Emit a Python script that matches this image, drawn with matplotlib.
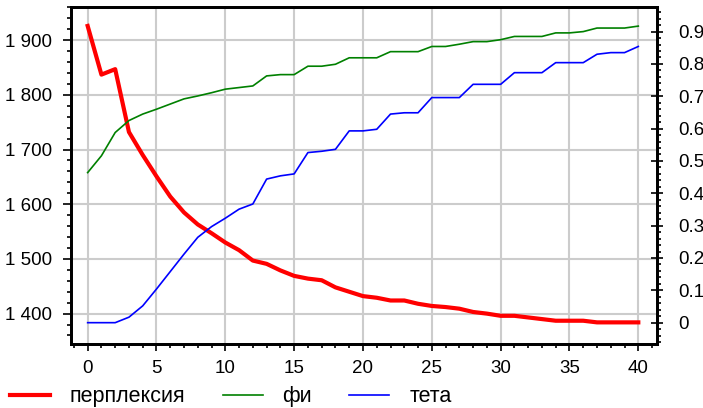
import matplotlib
matplotlib.use("Agg")
import matplotlib.pyplot as plt
from matplotlib.ticker import MultipleLocator, FuncFormatter

plt.rcParams['font.family'] = ['Liberation Sans', 'DejaVu Sans']

# данные
epochs = list(range(41))
perplexity = [1926, 1837, 1847, 1732, 1690, 1651, 1614, 1585, 1563, 1547,
              1530, 1516, 1497, 1491, 1479, 1469, 1464, 1461, 1448, 1440,
              1432, 1429, 1424, 1424, 1418, 1414, 1412, 1409, 1403, 1400,
              1396, 1396, 1393, 1390, 1387, 1387, 1387, 1384, 1384, 1384, 1384]
phi = [0.464, 0.516, 0.588, 0.625, 0.645, 0.660, 0.676, 0.692, 0.701, 0.711,
       0.722, 0.727, 0.732, 0.763, 0.767, 0.767, 0.793, 0.793, 0.799, 0.819,
       0.819, 0.819, 0.838, 0.838, 0.838, 0.854, 0.854, 0.861, 0.869, 0.869,
       0.875, 0.885, 0.885, 0.885, 0.896, 0.896, 0.900, 0.911, 0.911, 0.911, 0.917]
theta = [0.0, 0.0, 0.0, 0.017, 0.052, 0.104, 0.158, 0.212, 0.264, 0.297,
         0.323, 0.351, 0.367, 0.444, 0.454, 0.460, 0.526, 0.530, 0.536, 0.593,
         0.593, 0.598, 0.645, 0.649, 0.649, 0.696, 0.696, 0.696, 0.737, 0.737,
         0.737, 0.773, 0.773, 0.773, 0.804, 0.804, 0.804, 0.830, 0.835, 0.835, 0.854]

fig = plt.figure(figsize=(7.03, 4.08), dpi=100)
ax = fig.add_axes([0.1006, 0.1576, 0.8344, 0.8244])
ax2 = ax.twinx()

l1, = ax.plot(epochs, perplexity, color='#ff0000', lw=3, label='перплексия')
l2, = ax2.plot(epochs, phi, color='#008000', lw=1.2, label='фи')
l3, = ax2.plot(epochs, theta, color='#0000ff', lw=1.2, label='тета')

ax.set_xlim(-1.23, 41.38)
ax.set_ylim(1345, 1960)
ax2.set_ylim(-0.065, 0.975)

ax.xaxis.set_major_locator(MultipleLocator(5))
ax.xaxis.set_minor_locator(MultipleLocator(1))
ax.yaxis.set_major_locator(MultipleLocator(100))
ax.yaxis.set_minor_locator(MultipleLocator(20))
ax2.yaxis.set_major_locator(MultipleLocator(0.1))
ax2.yaxis.set_minor_locator(MultipleLocator(0.02))

ax.yaxis.set_major_formatter(FuncFormatter(lambda v, p: f"{int(round(v)):,}".replace(",", " ")))
ax2.yaxis.set_major_formatter(FuncFormatter(lambda v, p: "0" if abs(v) < 1e-9 else f"{v:.1f}"))

ax.grid(True, which='major', color='#cccccc', lw=1.5)
ax.set_axisbelow(True)

for a in (ax, ax2):
    for s in a.spines.values():
        s.set_linewidth(2)
        s.set_color('black')
    a.tick_params(which='both', labelsize=13.5, width=1.2, colors='black')
    a.tick_params(which='minor', length=3)
ax.tick_params(axis='y', which='major', length=6, pad=7.5)
ax.tick_params(axis='x', which='major', length=5, pad=7)
ax2.tick_params(axis='y', which='major', direction='inout', length=8, pad=11)

fig.legend(handles=[l1, l2, l3], loc='center left', bbox_to_anchor=(0.014, 0.027),
           ncol=3, frameon=False, fontsize=15.5, handlelength=1.86,
           handletextpad=0.93, columnspacing=1.72, borderpad=0, borderaxespad=0)

fig.savefig('out.png', dpi=100)
